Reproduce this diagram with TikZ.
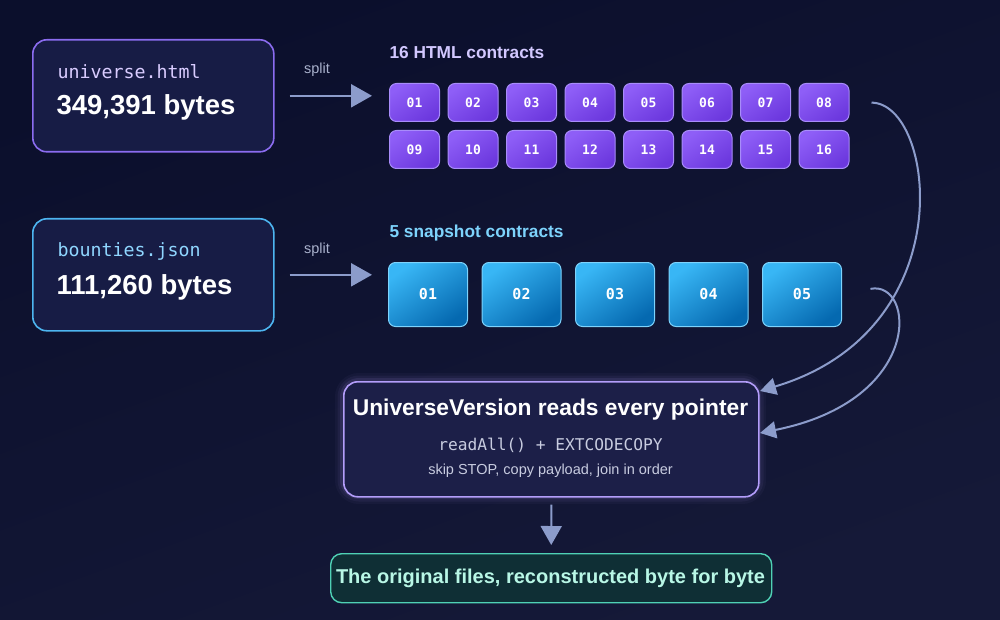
\documentclass[tikz,border=0pt]{standalone}
\usepackage{fontspec}
\setmainfont{Liberation Sans}
\setsansfont{Liberation Sans}
\setmonofont{DejaVu Sans Mono}
\usetikzlibrary{arrows.meta,shadings}
\definecolor{bg}{HTML}{0E1230}
\definecolor{bgA}{HTML}{0B0F2C}
\definecolor{bgB}{HTML}{151938}
\definecolor{filefill}{HTML}{171C45}
\definecolor{htmlborder}{HTML}{8B6CF0}
\definecolor{jsonborder}{HTML}{4DB5F0}
\definecolor{htmltext}{HTML}{D9CCFF}
\definecolor{jsontext}{HTML}{8FD6FF}
\definecolor{purpA}{HTML}{8E5EF7}
\definecolor{purpB}{HTML}{6C38DE}
\definecolor{purpBorder}{HTML}{A88CFA}
\definecolor{blueA}{HTML}{38B6F5}
\definecolor{blueB}{HTML}{0569B0}
\definecolor{blueBorder}{HTML}{7DD3FC}
\definecolor{uvfill}{HTML}{1C1F48}
\definecolor{uvborder}{HTML}{B39DFA}
\definecolor{finfill}{HTML}{0F2F35}
\definecolor{finborder}{HTML}{4FD1B5}
\definecolor{fintext}{HTML}{B8F7E6}
\definecolor{flowc}{HTML}{8C9CCB}
\definecolor{subtext}{HTML}{C8CCE0}
\definecolor{splitc}{HTML}{A9B1CC}
\definecolor{htmltitle}{HTML}{D2C8FF}
\definecolor{jsontitle}{HTML}{7DD3FC}
\tikzset{
  filebox/.style={draw, line width=1.6pt, rounded corners=14pt, fill=filefill, minimum width=241pt, minimum height=112pt, anchor=north west, inner sep=0pt},
  pbox/.style={draw=purpBorder, line width=1pt, rounded corners=7pt, top color=purpA, bottom color=purpB, shading angle=35, minimum width=50pt, minimum height=38pt, anchor=north west, inner sep=0pt, text=white, font=\ttfamily\bfseries\fontsize{13}{15}\selectfont},
  bbox/.style={draw=blueBorder, line width=1pt, rounded corners=7pt, top color=blueA, bottom color=blueB, shading angle=35, minimum width=79pt, minimum height=64pt, anchor=north west, inner sep=0pt, text=white, font=\ttfamily\bfseries\fontsize{15}{17}\selectfont},
  flow/.style={draw=flowc, line width=2.4pt, -{Triangle[length=21pt,width=23pt]}},
  curveflow/.style={draw=flowc, line width=2pt, -{Triangle[length=16pt,width=17pt]}},
  splitlbl/.style={text=splitc, font=\fontsize{14.5}{16}\selectfont},
  titlelbl/.style={anchor=west, font=\bfseries\fontsize{17.3}{20}\selectfont},
  fname/.style={anchor=west, font=\ttfamily\fontsize{18.3}{21}\selectfont},
  fsize/.style={anchor=west, text=white, font=\bfseries\fontsize{27.5}{31}\selectfont},
}
\begin{document}
\begin{tikzpicture}[x=1pt,y=-1pt]
\useasboundingbox (0,0) rectangle (1000,620);
\shade[top color=bgA, bottom color=bgB, shading angle=20] (0,0) rectangle (1000,620);

% file boxes
\node[filebox, draw=htmlborder] (html) at (32,39) {};
\node[fname, text=htmltext] (htmlname) at (54,72) {universe.html};
\node[fsize] (htmlsize) at (53,107) {349,391 bytes};

\node[filebox, draw=jsonborder] (json) at (32,218) {};
\node[fname, text=jsontext] (jsonname) at (54,251) {bounties.json};
\node[fsize] (jsonsize) at (53,287) {111,260 bytes};

% titles
\node[titlelbl, text=htmltitle] (htitle) at (386,53) {16 HTML contracts};
\node[titlelbl, text=jsontitle] (jtitle) at (386,233) {5 snapshot contracts};

% purple contract boxes
\foreach \i/\lbl in {0/01,1/02,2/03,3/04,4/05,5/06,6/07,7/08}{
  \node[pbox] (c\lbl) at ({389+58.5*\i},83) {\lbl};
}
\foreach \i/\lbl in {0/09,1/10,2/11,3/12,4/13,5/14,6/15,7/16}{
  \node[pbox] (c\lbl) at ({389+58.5*\i},130) {\lbl};
}
% blue snapshot boxes
\foreach \i/\lbl in {0/01,1/02,2/03,3/04,4/05}{
  \node[bbox] (s\lbl) at ({388+93.5*\i},262) {\lbl};
}

% split arrows
\node[splitlbl] (split1) at (317,70) {split};
\node[splitlbl] (split2) at (317,250) {split};
\draw[flow, shorten <=15pt, shorten >=17pt] (html.east) -- (html.east -| c01.west);
\draw[flow, shorten <=15pt, shorten >=16pt] (json.east) -- (json.east -| s01.west);

% central box with glow
\foreach \w/\o in {16/0.04,11/0.06,6/0.10}{
  \draw[uvborder, line width=\w pt, opacity=\o, rounded corners=16pt] (343,381) rectangle (758,496);
}
\node[draw=uvborder, line width=1.6pt, rounded corners=14pt, fill=uvfill, minimum width=415pt, minimum height=115pt, anchor=north west, inner sep=0pt] (uv) at (343,381) {};
\node[text=white, font=\bfseries\fontsize{22.8}{26}\selectfont] (uvtitle) at (550.5,410) {UniverseVersion reads every pointer};
\node[text=subtext, font=\ttfamily\fontsize{16.2}{18}\selectfont] (uvcode) at (550.5,445) {readAll() + EXTCODECOPY};
\node[text=subtext, font=\fontsize{14.5}{16}\selectfont] (uvnote) at (550.5,471) {skip STOP, copy payload, join in order};

% final box
\node[draw=finborder, line width=1.4pt, rounded corners=11pt, fill=finfill, minimum width=441pt, minimum height=49pt, anchor=north west, inner sep=0pt] (fin) at (330,553) {};
\node[text=fintext, font=\bfseries\fontsize{20}{23}\selectfont] (fintxt) at (550.5,578) {The original files, reconstructed byte for byte};

\draw[flow, line width=2pt, -{Triangle[length=19pt,width=21pt]}, shorten <=7pt, shorten >=8pt] (uv.south) -- (fin.north);

% curves into the central box
\coordinate (in1) at (760,391);
\coordinate (in2) at (760,433);
\draw[curveflow, shorten <=22pt] (c08.east) .. controls (935,103) and (965,330) .. (in1);
\draw[curveflow, shorten <=29pt] (s05.east) .. controls (915,280) and (925,400) .. (in2);
\end{tikzpicture}
\end{document}
